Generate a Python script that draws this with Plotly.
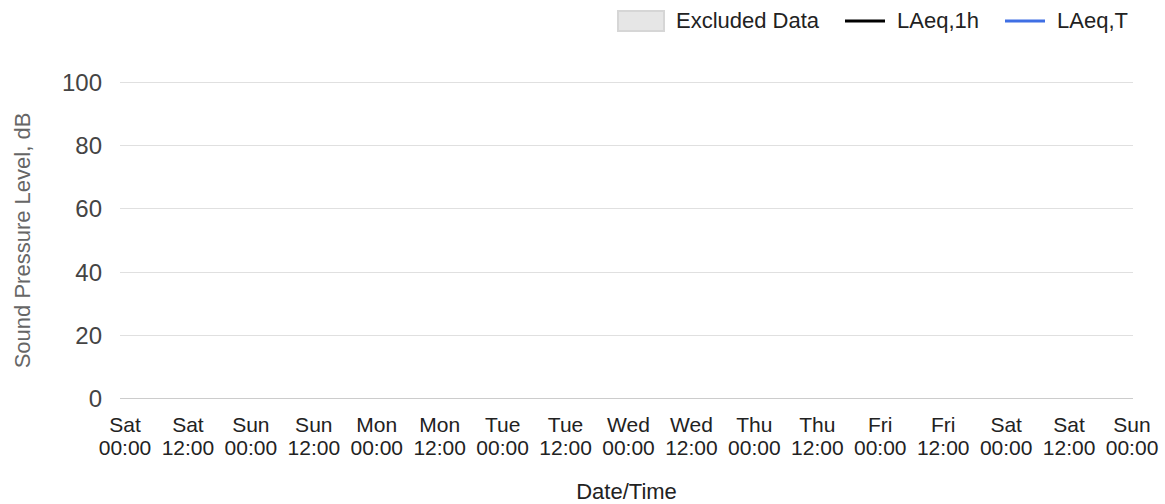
import plotly.graph_objects as go

# ---------------- data (no measurements recorded in the displayed period) ----------------
excluded_times = []
excluded_levels = []
laeq_1h_times = []
laeq_1h_values = []
laeq_t_times = []
laeq_t_values = []

tick_times = [
    "2023-01-07 00:00", "2023-01-07 12:00", "2023-01-08 00:00", "2023-01-08 12:00",
    "2023-01-09 00:00", "2023-01-09 12:00", "2023-01-10 00:00", "2023-01-10 12:00",
    "2023-01-11 00:00", "2023-01-11 12:00", "2023-01-12 00:00", "2023-01-12 12:00",
    "2023-01-13 00:00", "2023-01-13 12:00", "2023-01-14 00:00", "2023-01-14 12:00",
    "2023-01-15 00:00",
]
tick_days = ["Sat", "Sat", "Sun", "Sun", "Mon", "Mon", "Tue", "Tue", "Wed", "Wed",
             "Thu", "Thu", "Fri", "Fri", "Sat", "Sat", "Sun"]
tick_hours = ["00:00", "12:00", "00:00", "12:00", "00:00", "12:00", "00:00", "12:00",
              "00:00", "12:00", "00:00", "12:00", "00:00", "12:00", "00:00", "12:00",
              "00:00"]
y_ticks = [0, 20, 40, 60, 80, 100]
legend_labels = ["Excluded Data", "LAeq,1h", "LAeq,T"]

# ---------------- layout constants ----------------
W, H = 1165, 504
ML, MR, MT, MB = 120, 1165 - 1133, 79, 504 - 402
PW = W - ML - MR
PH = H - MT - MB

def px(x):
    """page pixel x -> paper fraction"""
    return (x - ML) / PW

def py(y):
    """page pixel y -> paper fraction"""
    return (H - MB - y) / PH

BLUE = "#3f6fe4"
FONT = "Liberation Sans, Arial, sans-serif"

fig = go.Figure()
fig.add_trace(go.Scatter(x=excluded_times, y=excluded_levels, fill="toself",
                         fillcolor="#e6e6e6", line=dict(color="#d6d6d6"),
                         name=legend_labels[0], showlegend=False))
fig.add_trace(go.Scatter(x=laeq_1h_times, y=laeq_1h_values, mode="lines",
                         line=dict(color="#000000", width=2),
                         name=legend_labels[1], showlegend=False))
fig.add_trace(go.Scatter(x=laeq_t_times, y=laeq_t_values, mode="lines",
                         line=dict(color=BLUE, width=2),
                         name=legend_labels[2], showlegend=False, xaxis="x2"))

x_range = ["2023-01-06 23:03", "2023-01-15 00:11"]

fig.update_layout(
    width=W, height=H,
    margin=dict(l=ML, r=MR, t=MT, b=MB, autoexpand=False),
    paper_bgcolor="white", plot_bgcolor="white",
    font=dict(family=FONT, color="#222222"),
    showlegend=False,
    xaxis=dict(type="date", range=x_range, tickmode="array",
               tickvals=tick_times, ticktext=tick_days,
               showgrid=False, zeroline=False, showline=False, ticks="",
               tickfont=dict(size=21, color="#222222"), ticklabelstandoff=8,
               ticklabeloverflow="allow",
               automargin=False, fixedrange=True),
    xaxis2=dict(type="date", range=x_range, tickmode="array", overlaying="x",
                anchor="y", side="bottom",
                tickvals=tick_times, ticktext=tick_hours,
                showgrid=False, zeroline=False, showline=False, ticks="",
                tickfont=dict(size=21, color="#222222"), ticklabelstandoff=31,
                ticklabeloverflow="allow",
                title=dict(text="Date/Time", font=dict(size=22, color="#222222"),
                           standoff=30),
                automargin=False, fixedrange=True),
    yaxis=dict(range=[-1, 101], tickmode="array", tickvals=y_ticks,
               showgrid=True, gridcolor="#e0e0e0", gridwidth=1,
               zeroline=True, zerolinecolor="#cccccc", zerolinewidth=1,
               showline=False, ticks="",
               tickfont=dict(size=24, color="#444444"), ticklabelstandoff=17,
               title=dict(text="Sound Pressure Level, dB",
                          font=dict(size=22, color="#666666"), standoff=25),
               automargin=False, fixedrange=True),
)

# ---------------- legend (drawn at top right) ----------------
fig.add_shape(type="rect", xref="paper", yref="paper",
              x0=px(618), x1=px(664), y0=py(31), y1=py(11),
              fillcolor="#e6e6e6", line=dict(color="#d6d6d6", width=2))
fig.add_shape(type="line", xref="paper", yref="paper",
              x0=px(845), x1=px(885), y0=py(21), y1=py(21),
              line=dict(color="#000000", width=3))
fig.add_shape(type="line", xref="paper", yref="paper",
              x0=px(1005), x1=px(1045), y0=py(21), y1=py(21),
              line=dict(color=BLUE, width=3))
for xpos, label in zip([674, 895, 1055], legend_labels):
    fig.add_annotation(x=px(xpos), y=py(21), xref="paper", yref="paper",
                       text=label, showarrow=False, xanchor="left", yanchor="middle",
                       font=dict(size=22, color="#222222"))

fig.write_html(
    "out.html",
    config={"displayModeBar": False, "staticPlot": True},
    post_script="document.body.style.margin='0';document.body.style.overflow='hidden';",
)
